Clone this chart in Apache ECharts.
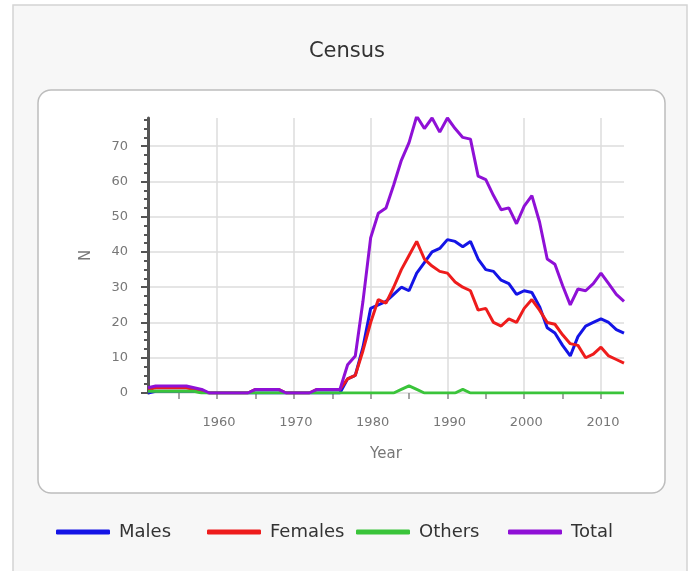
<!DOCTYPE html>
<html lang="en">

<head>
    <meta charset="UTF-8">
    <title>Census</title>
</head>
<style>
    body {
        margin: 0;
        background: #fff;
    }

    .main {
        width: 694px;
        height: 571px;
    }
</style>

<body>
    <div class="main" id="main"></div>
</body>
<script src="https://cdn.jsdelivr.net/npm/echarts@6/dist/echarts.min.js"></script>
<script>
    // years 1951 .. 2013
    const years = [];
    for (let y = 1951; y <= 2013; y++) years.push(y);

    const males = [
        0, 0.5, 0.5, 0.5, 0.5, 0.5, 0.5, 0.5,            // 1951-1958
        0, 0, 0, 0, 0, 0, 0, 0, 0, 0,                    // 1959-1968
        0, 0, 0, 0, 0, 0, 0, 0,                          // 1969-1976
        4, 5, 13, 24, 25, 26, 28, 30, 29, 34,            // 1977-1986
        37, 40, 41, 43.5, 43, 41.5, 43, 38, 35, 34.5,    // 1987-1996
        32, 31, 28, 29, 28.5, 24.5, 18.5, 17, 13.5, 10.5,// 1997-2006
        16, 19, 20, 21, 20, 18, 17                       // 2007-2013
    ];
    const females = [
        1, 1.5, 1.5, 1.5, 1.5, 1.5, 1, 0.5,
        0, 0, 0, 0, 0, 0, 1, 1, 1, 1,
        0, 0, 0, 0, 1, 1, 1, 1,
        4, 5, 12, 20, 26.5, 25.5, 30, 35, 39, 43,
        38, 36, 34.5, 34, 31.5, 30, 29, 23.5, 24, 20,
        19, 21, 20, 24, 26.5, 23.5, 20, 19.5, 16.5, 14,
        13.5, 10, 11, 13, 10.5, 9.5, 8.5
    ];
    const others = [
        0.5, 0.5, 0.5, 0.5, 0.5, 0.5, 0.5, 0,
        0, 0, 0, 0, 0, 0, 0, 0, 0, 0,
        0, 0, 0, 0, 0, 0, 0, 0,
        0, 0, 0, 0, 0, 0, 0, 1, 2, 1,
        0, 0, 0, 0, 0, 1, 0, 0, 0, 0,
        0, 0, 0, 0, 0, 0, 0, 0, 0, 0,
        0, 0, 0, 0, 0, 0, 0
    ];
    const total = [
        1.5, 2, 2, 2, 2, 2, 1.5, 1,
        0, 0, 0, 0, 0, 0, 1, 1, 1, 1,
        0, 0, 0, 0, 1, 1, 1, 1,
        8, 10.5, 26, 44, 51, 52.5, 59, 66, 71, 78.5,
        75, 78, 74, 78, 75, 72.5, 72, 61.5, 60.5, 56,
        52, 52.5, 48, 53, 56, 48.5, 38, 36.5, 30.5, 25,
        29.5, 29, 31, 34, 31, 28, 26
    ];

    const xTicks = [1955, 1960, 1965, 1970, 1975, 1980, 1985, 1990, 1995, 2000, 2005, 2010];
    const xLabels = [1960, 1970, 1980, 1990, 2000, 2010];
    const yLabels = [0, 10, 20, 30, 40, 50, 60, 70];

    const seriesNames = ['Males', 'Females', 'Others', 'Total'];
    const seriesData = [males, females, others, total];
    const colors = ['#1414e6', '#ee1c1c', '#3ac43a', '#8f10d6'];
    const legendLeft = [51, 202, 351, 503];

    const font = 'DejaVu Sans';

    let myChart = echarts.init(document.getElementById('main'));

    let option = {
        animation: false,
        textStyle: { fontFamily: font },
        title: {
            text: 'Census',
            left: 'center',
            top: 36,
            textStyle: { fontFamily: font, fontSize: 21, fontWeight: 'normal', color: '#333' }
        },
        graphic: [
            {
                type: 'rect', z: -10, silent: true,
                shape: { x: 13, y: 5, width: 674, height: 580 },
                style: { fill: '#f7f7f7', stroke: '#d4d4d4', lineWidth: 1.5 }
            },
            {
                type: 'rect', z: -9, silent: true,
                shape: { x: 38, y: 90, width: 627, height: 403, r: 13 },
                style: { fill: '#ffffff', stroke: '#bdbdbd', lineWidth: 1.5 }
            }
        ],
        // one legend per item so each sits at its own column
        legend: seriesNames.map((name, i) => ({
            left: legendLeft[i],
            top: 518,
            icon: 'roundRect',
            itemWidth: 54,
            itemHeight: 5,
            textStyle: { fontFamily: font, fontSize: 18, color: '#333', padding: [0, 0, 0, 4] },
            data: [name]
        })),
        grid: {
            left: 148,
            right: 70,
            top: 118,
            bottom: 178,
            containLabel: false
        },
        xAxis: [
            {
                type: 'value',
                min: 1951,
                max: 2013,
                name: 'Year',
                nameLocation: 'middle',
                nameGap: 54,
                nameTextStyle: { fontFamily: font, fontSize: 15, color: '#777' },
                axisLine: { show: false },
                axisTick: { show: true, customValues: xTicks, length: 6, lineStyle: { color: '#888', width: 1.5 } },
                axisLabel: {
                    customValues: xLabels, fontSize: 13, color: '#777', margin: 23,
                    padding: [0, 0, 0, 4],
                    formatter: v => String(v)
                },
                splitLine: { show: false }
            },
            {
                type: 'value',
                min: 1951,
                max: 2013,
                position: 'bottom',
                axisLine: { show: false },
                axisTick: { show: false, customValues: xLabels },
                axisLabel: { show: false },
                splitLine: { show: true, lineStyle: { color: '#dcdcdc', width: 1.5 } }
            }
        ],
        yAxis: {
            type: 'value',
            min: 0,
            max: 78,
            interval: 10,
            name: 'N',
            nameLocation: 'middle',
            nameGap: 54,
            nameTextStyle: { fontFamily: font, fontSize: 15, color: '#777' },
            axisLine: { show: true, lineStyle: { color: '#555', width: 3 } },
            axisTick: { show: true, customValues: yLabels, length: 7, lineStyle: { color: '#555', width: 2 } },
            minorTick: { show: true, splitNumber: 4, length: 4, lineStyle: { color: '#555', width: 2 } },
            axisLabel: { customValues: yLabels, fontSize: 13, color: '#777', margin: 20 },
            splitLine: { show: true, lineStyle: { color: '#dcdcdc', width: 1.5 } }
        },
        series: seriesNames.map((name, i) => ({
            name: name,
            type: 'line',
            data: years.map((y, j) => [y, seriesData[i][j]]),
            showSymbol: false,
            symbol: 'none',
            lineStyle: { color: colors[i], width: 3 },
            itemStyle: { color: colors[i] }
        }))
    };

    myChart.setOption(option);
</script>

</html>
